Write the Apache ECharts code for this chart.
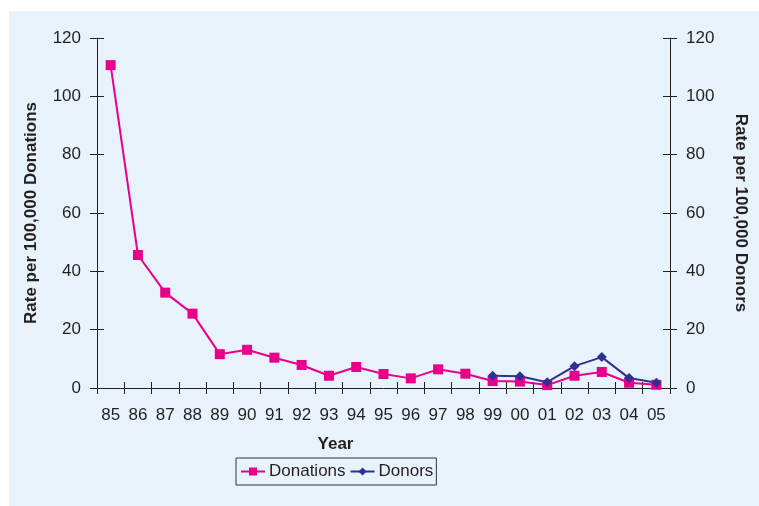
<!DOCTYPE html>
<html><head><meta charset="utf-8">
<script src="https://cdn.jsdelivr.net/npm/echarts@6/dist/echarts.min.js"></script>
<style>html,body{margin:0;padding:0;background:#fff}#c{width:759px;height:506px}</style>
</head><body><div id="c"></div>
<script>
const years = ['85','86','87','88','89','90','91','92','93','94','95','96','97','98','99','00','01','02','03','04','05'];
const donations = [110.7,45.6,32.7,25.5,11.6,13.1,10.4,7.9,4.2,7.2,4.8,3.3,6.4,4.9,2.4,2.2,1.0,4.2,5.5,1.8,1.1];
const donors = [null,null,null,null,null,null,null,null,null,null,null,null,null,null,4.2,4.0,2.0,7.5,10.6,3.4,1.8];
const yTicks = {min:0,max:120,interval:20};

const ink = '#231f20';
const font = 'Liberation Sans, Arial, sans-serif';
const chart = echarts.init(document.getElementById('c'), null, {renderer:'canvas'});
const baseY = (pos, withLabels, inside, name) => ({
  type:'value', position:pos, min:yTicks.min, max:yTicks.max, interval:yTicks.interval,
  splitLine:{show:false},
  axisLine:{show:withLabels, lineStyle:{color:ink,width:1}},
  axisTick:{show:true, inside:inside, length:7, lineStyle:{color:ink,width:1}},
  axisLabel:{show:withLabels, color:ink, fontSize:17, fontFamily:font, margin:16},
  name: withLabels ? name : '',
  nameLocation:'middle',
  nameRotate: pos==='left' ? 90 : -90,
  nameGap: pos==='left' ? 57 : 62,
  nameTextStyle:{color:ink, fontSize:17, fontWeight:'bold', fontFamily:font}
});
chart.setOption({
  animation:false,
  backgroundColor:'#ffffff',
  graphic:[{type:'rect', z:-10, shape:{x:9,y:11,width:750,height:495}, style:{fill:'#e8f2fb'}}],
  grid:{left:97,right:89,top:38,bottom:118,containLabel:false},
  xAxis:[
    {type:'category', data:years, boundaryGap:true,
     axisLine:{lineStyle:{color:ink,width:1}},
     axisTick:{show:true, length:6, lineStyle:{color:ink}},
     axisLabel:{color:ink, fontSize:17, fontFamily:font, margin:19, interval:0},
     name:'Year', nameLocation:'middle', nameGap:48,
     nameTextStyle:{color:ink, fontSize:17, fontWeight:'bold', fontFamily:font, padding:[0,96,0,0]}},
    {type:'category', data:years, position:'bottom', boundaryGap:true,
     axisLine:{show:false}, axisTick:{show:true, inside:true, length:6, lineStyle:{color:ink}},
     axisLabel:{show:false}}
  ],
  yAxis:[
    baseY('left', true, false, 'Rate per 100,000 Donations'),
    baseY('right', true, false, 'Rate per 100,000 Donors'),
    baseY('left', false, true, ''),
    baseY('right', false, true, '')
  ],
  legend:{
    orient:'horizontal',
    left:236, top:458,
    padding:[5,3,5,4],
    borderColor:'#333', borderWidth:1,
    itemWidth:24, itemHeight:10, itemGap:4,
    textStyle:{color:ink, fontSize:17, fontFamily:font, padding:[0,0,0,-1]},
    data:['Donations','Donors']
  },
  series:[
    {name:'Donations', type:'line', xAxisIndex:0, yAxisIndex:0, data:donations,
     symbol:'rect', symbolSize:10, itemStyle:{color:'#e8008a'},
     lineStyle:{color:'#e8008a', width:2}},
    {name:'Donors', type:'line', xAxisIndex:0, yAxisIndex:1, data:donors,
     symbol:'diamond', symbolSize:10, itemStyle:{color:'#2e3192'},
     lineStyle:{color:'#2e3192', width:2}}
  ]
});
</script></body></html>
